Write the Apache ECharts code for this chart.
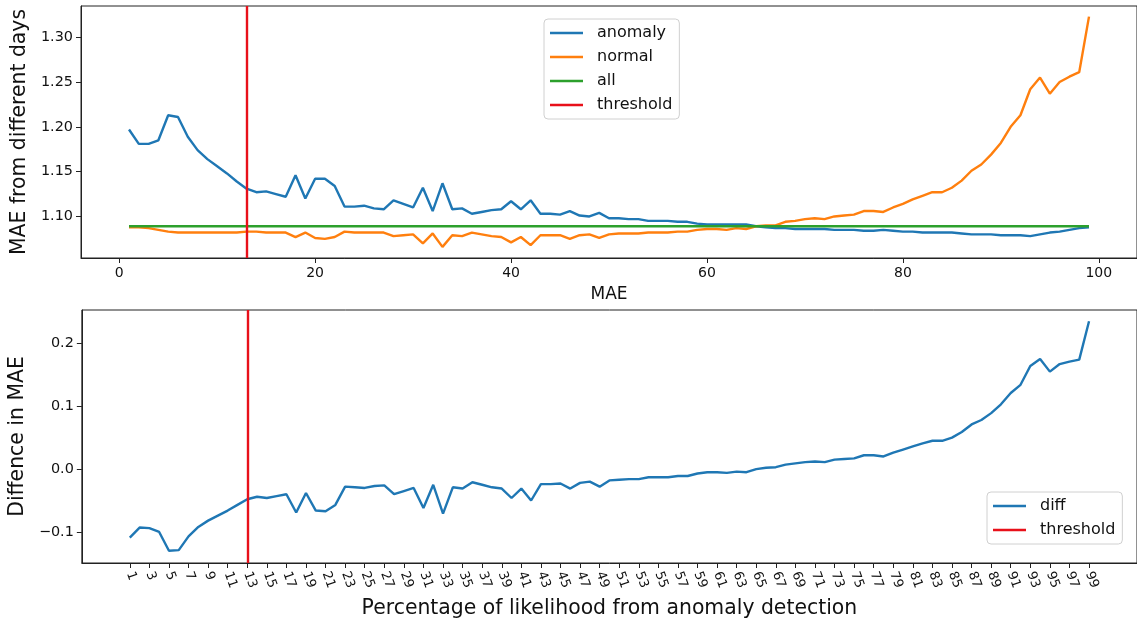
<!DOCTYPE html>
<html>
<head>
<meta charset="utf-8">
<script src="https://cdn.jsdelivr.net/npm/echarts@6/dist/echarts.min.js"></script>
<style>html,body{margin:0;padding:0;background:#fff;}#c{width:1137px;height:627px;}</style>
</head>
<body>
<div id="c"></div>
<script>
const xs = [1,2,3,4,5,6,7,8,9,10,11,12,13,14,15,16,17,18,19,20,21,22,23,24,25,26,27,28,29,30,31,32,33,34,35,36,37,38,39,40,41,42,43,44,45,46,47,48,49,50,51,52,53,54,55,56,57,58,59,60,61,62,63,64,65,66,67,68,69,70,71,72,73,74,75,76,77,78,79,80,81,82,83,84,85,86,87,88,89,90,91,92,93,94,95,96,97,98,99];
const anomaly = [1.197,1.181,1.181,1.185,1.213,1.211,1.189,1.174,1.164,1.156,1.148,1.139,1.131,1.127,1.128,1.125,1.122,1.146,1.120,1.142,1.142,1.134,1.111,1.111,1.112,1.109,1.108,1.118,1.114,1.110,1.132,1.106,1.137,1.108,1.109,1.103,1.105,1.107,1.108,1.117,1.108,1.118,1.103,1.103,1.102,1.106,1.101,1.100,1.104,1.098,1.098,1.097,1.097,1.095,1.095,1.095,1.094,1.094,1.092,1.091,1.091,1.091,1.091,1.091,1.089,1.088,1.087,1.087,1.086,1.086,1.086,1.086,1.085,1.085,1.085,1.084,1.084,1.085,1.084,1.083,1.083,1.082,1.082,1.082,1.082,1.081,1.080,1.080,1.080,1.079,1.079,1.079,1.078,1.080,1.082,1.083,1.085,1.087,1.088];
const normal = [1.088,1.088,1.087,1.085,1.083,1.082,1.082,1.082,1.082,1.082,1.082,1.082,1.083,1.083,1.082,1.082,1.082,1.077,1.082,1.076,1.075,1.077,1.083,1.082,1.082,1.082,1.082,1.078,1.079,1.080,1.070,1.081,1.066,1.079,1.078,1.082,1.080,1.078,1.077,1.071,1.077,1.068,1.079,1.079,1.079,1.075,1.079,1.080,1.076,1.080,1.081,1.081,1.081,1.082,1.082,1.082,1.083,1.083,1.085,1.086,1.086,1.085,1.087,1.086,1.089,1.090,1.090,1.094,1.095,1.097,1.098,1.097,1.100,1.101,1.102,1.106,1.106,1.105,1.110,1.114,1.119,1.123,1.127,1.127,1.132,1.140,1.151,1.158,1.169,1.182,1.200,1.213,1.242,1.255,1.237,1.250,1.256,1.261,1.323];
const all = [1.089,1.089,1.089,1.089,1.089,1.089,1.089,1.089,1.089,1.089,1.089,1.089,1.089,1.089,1.089,1.089,1.089,1.089,1.089,1.089,1.089,1.089,1.089,1.089,1.089,1.089,1.089,1.089,1.089,1.089,1.089,1.089,1.089,1.089,1.089,1.089,1.089,1.089,1.089,1.089,1.089,1.089,1.089,1.089,1.089,1.089,1.089,1.089,1.089,1.089,1.089,1.089,1.089,1.089,1.089,1.089,1.089,1.089,1.089,1.089,1.089,1.089,1.089,1.089,1.089,1.089,1.089,1.089,1.089,1.089,1.089,1.089,1.089,1.089,1.089,1.089,1.089,1.089,1.089,1.089,1.089,1.089,1.089,1.089,1.089,1.089,1.089,1.089,1.089,1.089,1.089,1.089,1.089,1.089,1.089,1.089,1.089,1.089,1.089];
const diff = [-0.109,-0.093,-0.094,-0.100,-0.130,-0.129,-0.107,-0.092,-0.082,-0.074,-0.066,-0.057,-0.048,-0.044,-0.046,-0.043,-0.040,-0.069,-0.038,-0.066,-0.067,-0.057,-0.028,-0.029,-0.030,-0.027,-0.026,-0.040,-0.035,-0.030,-0.062,-0.025,-0.071,-0.029,-0.031,-0.021,-0.025,-0.029,-0.031,-0.046,-0.031,-0.050,-0.024,-0.024,-0.023,-0.031,-0.022,-0.020,-0.028,-0.018,-0.017,-0.016,-0.016,-0.013,-0.013,-0.013,-0.011,-0.011,-0.007,-0.005,-0.005,-0.006,-0.004,-0.005,0.000,0.002,0.003,0.007,0.009,0.011,0.012,0.011,0.015,0.016,0.017,0.022,0.022,0.020,0.026,0.031,0.036,0.041,0.045,0.045,0.050,0.059,0.071,0.078,0.089,0.103,0.121,0.134,0.164,0.175,0.155,0.167,0.171,0.174,0.235];
const threshold = 13;
const topXTicks = [0,20,40,60,80,100];
const topYTicks = [1.10,1.15,1.20,1.25,1.30];
const bottomXTicks = [1,3,5,7,9,11,13,15,17,19,21,23,25,27,29,31,33,35,37,39,41,43,45,47,49,51,53,55,57,59,61,63,65,67,69,71,73,75,77,79,81,83,85,87,89,91,93,95,97,99];
const bottomYTicks = [-0.1,0.0,0.1,0.2];

const C = {blue:'#1f77b4', orange:'#ff7f0e', green:'#2ca02c', red:'#e8101a'};
const FONT = 'DejaVu Sans';
const LW = 2.4;
const pairs = arr => xs.map((x,i)=>[x,arr[i]]);
const axisCommon = {
  axisLine:{show:true, onZero:false, lineStyle:{color:'#222', width:1}},
  axisTick:{show:true, inside:false, length:5, lineStyle:{color:'#222', width:1}},
  splitLine:{show:false}
};
const fmtMinus = s => s.replace('-', '\u2212');
const lineSeries = (name, data, color, xi) => ({
  name, type:'line', data, xAxisIndex:xi, yAxisIndex:xi, symbol:'none', showSymbol:false,
  lineStyle:{color, width:LW}, itemStyle:{color}, animation:false, z:2
});
const thrSeries = (xi) => ({
  name:'threshold', type:'line', data:[], xAxisIndex:xi, yAxisIndex:xi, symbol:'none',
  lineStyle:{color:C.red, width:LW}, itemStyle:{color:C.red}, z:5,
  markLine:{silent:true, symbol:['none','none'], label:{show:false},
    lineStyle:{color:C.red, width:LW, type:'solid'}, data:[{xAxis:threshold}], animation:false}
});
const legendCommon = {
  orient:'vertical', icon:'rect', itemWidth:33, itemHeight:2.4, itemGap:8,
  textStyle:{fontFamily:FONT, fontSize:16, color:'#111', lineHeight:16, padding:[0,0,0,9]},
  backgroundColor:'rgba(255,255,255,0.85)', borderColor:'#d0d0d0', borderWidth:1, borderRadius:4
};

const chart = echarts.init(document.getElementById('c'), null, {renderer:'canvas'});
chart.setOption({
  animation:false,
  backgroundColor:'#fff',
  grid:[
    {left:81, top:6, width:1061.5, height:252, show:true, borderColor:'#222', borderWidth:1, backgroundColor:'transparent'},
    {left:81, top:310, width:1061.5, height:253, show:true, borderColor:'#222', borderWidth:1, backgroundColor:'transparent'}
  ],
  legend:[
    Object.assign({}, legendCommon, {left:544, top:19, padding:[6,7,6,6], data:['anomaly','normal','all','threshold']}),
    Object.assign({}, legendCommon, {left:987, top:492, padding:[6,7,6,6], data:['diff','threshold']})
  ],
  xAxis:[
    Object.assign({}, axisCommon, {gridIndex:0, type:'value', min:-3.9, max:103.9,
      name:'MAE', nameLocation:'middle', nameGap:28, nameTextStyle:{fontFamily:FONT, fontSize:17, color:'#111'},
      axisTick:Object.assign({}, axisCommon.axisTick, {customValues:topXTicks}),
      axisLabel:{customValues:topXTicks, fontFamily:FONT, fontSize:14, color:'#111', margin:8}}),
    Object.assign({}, axisCommon, {gridIndex:1, type:'value', min:-3.9, max:103.9,
      name:'Percentage of likelihood from anomaly detection', nameLocation:'middle', nameGap:36,
      nameTextStyle:{fontFamily:FONT, fontSize:20.4, color:'#111'},
      axisTick:Object.assign({}, axisCommon.axisTick, {customValues:bottomXTicks}),
      axisLabel:{customValues:bottomXTicks, rotate:-70, fontFamily:FONT, fontSize:13, color:'#111', margin:9}})
  ],
  yAxis:[
    Object.assign({}, axisCommon, {gridIndex:0, type:'value', min:1.0536, max:1.3349,
      name:'MAE from different days', nameLocation:'middle', nameGap:47, nameRotate:90,
      nameTextStyle:{fontFamily:FONT, fontSize:20.4, color:'#111'},
      axisTick:Object.assign({}, axisCommon.axisTick, {customValues:topYTicks}),
      axisLabel:{customValues:topYTicks, formatter:v=>v.toFixed(2), fontFamily:FONT, fontSize:14.4, color:'#111', margin:8}}),
    Object.assign({}, axisCommon, {gridIndex:1, type:'value', min:-0.1494, max:0.253,
      name:'Diffence in MAE', nameLocation:'middle', nameGap:47, nameRotate:90,
      nameTextStyle:{fontFamily:FONT, fontSize:20.4, color:'#111'},
      axisTick:Object.assign({}, axisCommon.axisTick, {customValues:bottomYTicks}),
      axisLabel:{customValues:bottomYTicks, formatter:v=>fmtMinus(v.toFixed(1)), fontFamily:FONT, fontSize:14.4, color:'#111', margin:8}})
  ],
  series:[
    lineSeries('anomaly', pairs(anomaly), C.blue, 0),
    lineSeries('normal', pairs(normal), C.orange, 0),
    lineSeries('all', pairs(all), C.green, 0),
    thrSeries(0),
    lineSeries('diff', pairs(diff), C.blue, 1),
    thrSeries(1)
  ]
});
</script>
</body>
</html>
